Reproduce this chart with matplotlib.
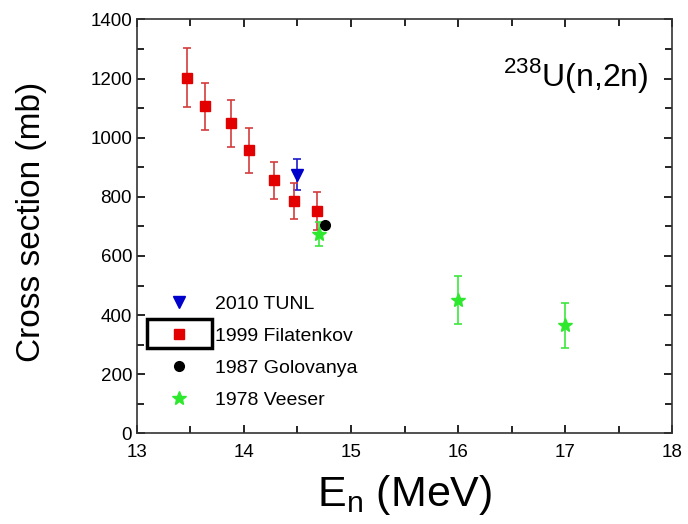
import matplotlib.pyplot as plt
from matplotlib.lines import Line2D
from matplotlib.patches import Rectangle
from matplotlib.ticker import MultipleLocator

plt.rcParams["font.family"] = ["Liberation Sans", "DejaVu Sans"]

# 1999 Filatenkov
fil_e = [13.47, 13.64, 13.88, 14.05, 14.28, 14.47, 14.68]
fil_xs = [1203, 1106, 1048, 957, 856, 785, 752]
fil_err = [100, 80, 78, 77, 63, 60, 63]

# 2010 TUNL
tunl_e = [14.50]
tunl_xs = [875]
tunl_err = [52]

# 1987 Golovanya
gol_e = [14.76]
gol_xs = [705]

# 1978 Veeser
vee_e = [14.70, 16.0, 17.0]
vee_xs = [674, 451, 366]
vee_err = [42, 81, 76]

labels = ["2010 TUNL", "1999 Filatenkov", "1987 Golovanya", "1978 Veeser"]
colors = ["#0000cc", "#e30000", "black", "#2ee82e"]
markers = ["v", "s", "o", "*"]
msizes = [8, 7, 7, 10]

fig = plt.figure(figsize=(6.88, 5.24), dpi=100)
ax = fig.add_axes([0.199, 0.173, 0.778, 0.790])

eb = dict(capsize=3, elinewidth=1.2, capthick=1.2, zorder=3)
ax.errorbar(tunl_e, tunl_xs, yerr=tunl_err, fmt=markers[0], color=colors[0],
            ecolor="#1a1acc", ms=msizes[0], **eb)
ax.errorbar(fil_e, fil_xs, yerr=fil_err, fmt=markers[1], color=colors[1],
            ecolor="#d43c3c", ms=msizes[1], **eb)
ax.plot(gol_e, gol_xs, markers[2], color=colors[2], ms=msizes[2], zorder=4)
ax.errorbar(vee_e, vee_xs, yerr=vee_err, fmt=markers[3], color=colors[3],
            ecolor="#3ce83c", ms=msizes[3], **eb)

ax.set_xlim(13, 18)
ax.set_ylim(0, 1400)
ax.xaxis.set_major_locator(MultipleLocator(1))
ax.xaxis.set_minor_locator(MultipleLocator(0.5))
ax.yaxis.set_major_locator(MultipleLocator(200))
ax.yaxis.set_minor_locator(MultipleLocator(100))
ax.tick_params(which="both", direction="in", top=True, right=True, width=1.2, labelsize=13.5)
ax.tick_params(which="major", length=6)
ax.tick_params(which="minor", length=5)
ax.tick_params(axis="x", pad=8)
for sp in ax.spines.values():
    sp.set_linewidth(1.2)
    sp.set_color("#333333")

ax.set_ylabel("Cross section (mb)", fontsize=24)
ax.yaxis.set_label_coords(-0.168, 0.51)
ax.set_xlabel(r"E$_\mathregular{n}$ (MeV)", fontsize=31, labelpad=8)

ax.text(0.955, 0.84, r"$^\mathregular{238}$U(n,2n)", transform=ax.transAxes,
        fontsize=23, ha="right", va="baseline")

handles = [Line2D([], [], ls="none", marker=m, color=c, ms=s)
           for m, c, s in zip(markers, colors, msizes)]
ax.legend(handles, labels, loc="upper left", bbox_to_anchor=(0.042, 0.334), frameon=False,
          fontsize=14, handlelength=2.0, handletextpad=0.85, labelspacing=0.75,
          borderaxespad=0, borderpad=0)

# box around the Filatenkov legend marker
ax.add_patch(Rectangle((0.0187, 0.2065), 0.1215, 0.070, transform=ax.transAxes,
                       fill=False, edgecolor="black", linewidth=2.5, clip_on=False))

fig.savefig("out.png", dpi=100)
